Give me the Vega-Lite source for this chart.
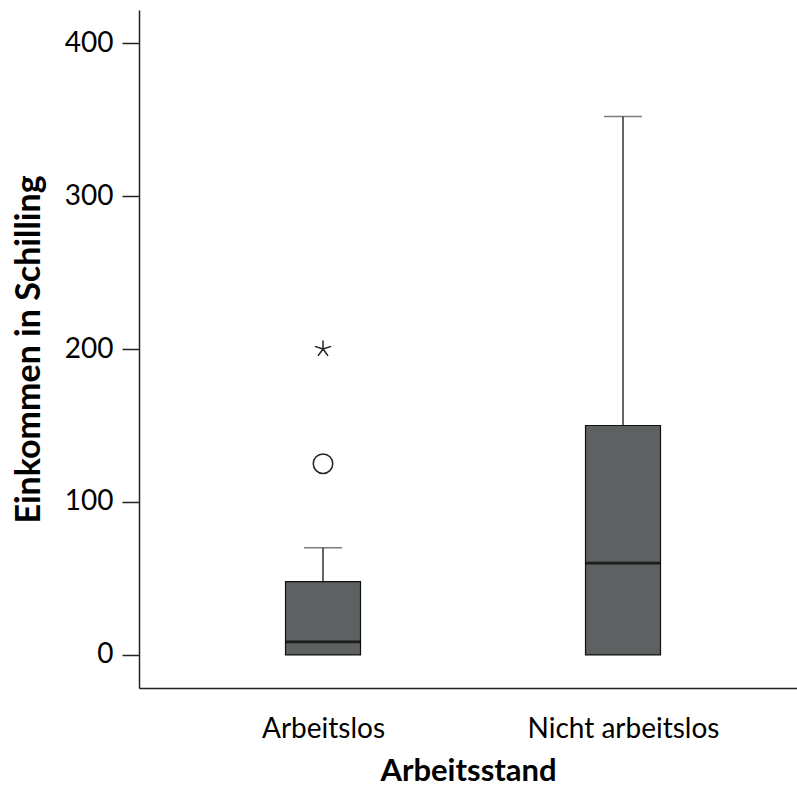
{
  "$schema": "https://vega.github.io/schema/vega-lite/v6.json",
  "autosize": {"type": "none"},
  "padding": {"left": 139, "top": 10, "right": 0, "bottom": 101},
  "width": 658,
  "height": 678,
  "background": "white",
  "config": {
    "view": {"stroke": null},
    "font": "Lato",
    "axis": {"grid": false, "domainColor": "#222222", "domainWidth": 1.5, "labelColor": "#000000", "titleColor": "#000000", "labelLimit": 400}
  },
  "datasets": {
    "boxes": [
      {"Arbeitsstand": "Arbeitslos", "min": 0, "q1": 0, "median": 8.5, "q3": 48, "max": 70},
      {"Arbeitsstand": "Nicht arbeitslos", "min": 0, "q1": 0, "median": 60, "q3": 150, "max": 352}
    ],
    "outliers": [
      {"Arbeitsstand": "Arbeitslos", "Einkommen": 125, "Art": "Ausreißer"},
      {"Arbeitsstand": "Arbeitslos", "Einkommen": 200, "Art": "Extremwert"}
    ]
  },
  "encoding": {
    "x": {
      "field": "Arbeitsstand",
      "type": "nominal",
      "sort": ["Arbeitslos", "Nicht arbeitslos"],
      "scale": {"type": "point", "padding": 0.5967, "align": 0.514},
      "axis": {
        "title": "Arbeitsstand",
        "labelAngle": 0,
        "ticks": false,
        "tickSize": 0,
        "labelFontSize": 28,
        "labelPadding": 27,
        "labelLimit": 400,
        "titleFontSize": 31,
        "titleFontWeight": "bold",
        "titlePadding": 13
      }
    }
  },
  "layer": [
    {
      "data": {"name": "boxes"},
      "mark": {"type": "rule", "color": "#333333", "strokeWidth": 1.5},
      "encoding": {
        "y": {
          "field": "q3",
          "type": "quantitative",
          "scale": {"domain": [-21.6, 421.6], "nice": false, "zero": false},
          "axis": {
            "title": "Einkommen in Schilling",
            "values": [0, 100, 200, 300, 400],
            "tickSize": 17,
            "tickColor": "#222222",
            "tickWidth": 1.5,
            "labelFontSize": 28,
            "labelPadding": 9,
            "titleFontSize": 34,
            "titleFontWeight": "bold",
            "titlePadding": 18
          }
        },
        "y2": {"field": "max"}
      }
    },
    {
      "data": {"name": "boxes"},
      "mark": {"type": "tick", "color": "#444444", "size": 38, "thickness": 1.5, "orient": "horizontal"},
      "encoding": {"y": {"field": "max", "type": "quantitative"}}
    },
    {
      "data": {"name": "boxes"},
      "mark": {"type": "bar", "width": 75, "fill": "#5e6161", "stroke": "#111111", "strokeWidth": 1.2},
      "encoding": {
        "y": {"field": "q1", "type": "quantitative"},
        "y2": {"field": "q3"}
      }
    },
    {
      "data": {"name": "boxes"},
      "mark": {"type": "tick", "color": "#000000", "size": 75, "thickness": 2.8, "orient": "horizontal"},
      "encoding": {"y": {"field": "median", "type": "quantitative"}}
    },
    {
      "data": {"name": "outliers"},
      "transform": [{"filter": "datum.Art === 'Ausreißer'"}],
      "mark": {"type": "point", "shape": "circle", "size": 380, "filled": false, "color": "#222222", "strokeWidth": 1.5, "opacity": 1},
      "encoding": {"y": {"field": "Einkommen", "type": "quantitative"}}
    },
    {
      "data": {"name": "outliers"},
      "transform": [{"filter": "datum.Art === 'Extremwert'"}],
      "mark": {
        "type": "point",
        "shape": "M0,0L0,-1M0,0L0.951,-0.309M0,0L0.588,0.809M0,0L-0.588,0.809M0,0L-0.951,-0.309",
        "size": 290,
        "filled": false,
        "color": "#222222",
        "strokeWidth": 1.5,
        "opacity": 1
      },
      "encoding": {"y": {"field": "Einkommen", "type": "quantitative"}}
    }
  ]
}
